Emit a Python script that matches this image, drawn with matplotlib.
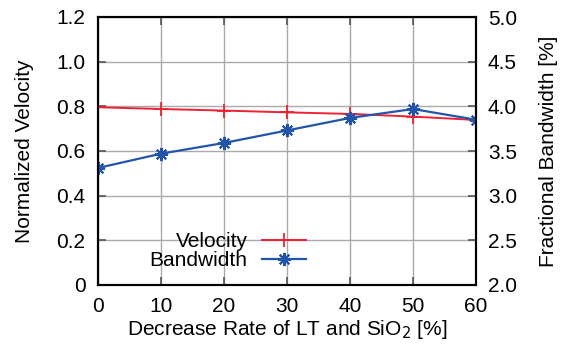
import matplotlib
matplotlib.use("Agg")
import matplotlib.pyplot as plt

decrease_rate = [0, 10, 20, 30, 40, 50, 60]
velocity = [0.796, 0.788, 0.781, 0.773, 0.766, 0.754, 0.739]
bandwidth = [3.31, 3.47, 3.59, 3.73, 3.87, 3.97, 3.85]

plt.rcParams['font.family'] = ['Liberation Sans', 'DejaVu Sans']
fs = 15

L, R, T, B = 98, 476, 17, 285
fig = plt.figure(figsize=(5.67, 3.49), dpi=100)
ax = fig.add_axes([L/567, 1-B/349, (R-L)/567, (B-T)/349])
ax2 = ax.twinx()

red = '#ee2233'
blue = '#2255aa'
l1, = ax.plot(decrease_rate, velocity, color=red, lw=1.4, marker='+', ms=9.5, mew=1.3, label='Velocity')
l2, = ax2.plot(decrease_rate, bandwidth, color=blue, lw=1.6, marker=(8, 2, 0), ms=9.5, mew=1.5, label='Bandwidth')

ax.set_xlim(0, 60)
ax.set_ylim(0, 1.2)
ax2.set_ylim(2.0, 5.0)
ax.set_xticks(decrease_rate)
ax.set_yticks([0, 0.2, 0.4, 0.6, 0.8, 1.0, 1.2])
ax.set_yticklabels(['0', '0.2', '0.4', '0.6', '0.8', '1.0', '1.2'])
ax2.set_yticks([2.0, 2.5, 3.0, 3.5, 4.0, 4.5, 5.0])
ax2.set_yticklabels(['2.0', '2.5', '3.0', '3.5', '4.0', '4.5', '5.0'])

ax.grid(True, color='#aaaaaa', lw=1.0)
ax.set_axisbelow(True)
ax.tick_params(axis='both', direction='in', labelsize=fs, length=6, width=1.2, color='#555555', pad=9)
ax.tick_params(axis='x', top=True, pad=9)
ax2.tick_params(axis='y', direction='in', labelsize=fs, length=6, width=1.2, color='#555555', pad=8.5)
for a in (ax, ax2):
    for s in a.spines.values():
        s.set_linewidth(1.5)

ax.set_xlabel('Decrease Rate of LT and SiO$_2$ [%]', fontsize=fs)
ax.set_ylabel('Normalized Velocity', fontsize=fs)
ax2.set_ylabel('Fractional Bandwidth [%]', fontsize=fs)
ax.xaxis.set_label_coords(0.5, (B-318)/(B-T))
ax.yaxis.set_label_coords((34-L)/(R-L), 0.5)
ax2.yaxis.set_label_coords((539-L)/(R-L), 0.5)

leg = ax2.legend(handles=[l1, l2], loc='center right', bbox_to_anchor=((306-L)/(R-L), (B-251)/(B-T)),
                 frameon=False, markerfirst=False, fontsize=fs, handlelength=2.1,
                 labelspacing=0.0, handletextpad=0.7, borderpad=0, borderaxespad=0)
for t in leg.get_texts():
    t.set_ha('right')

fig.savefig('out.png', dpi=100)
